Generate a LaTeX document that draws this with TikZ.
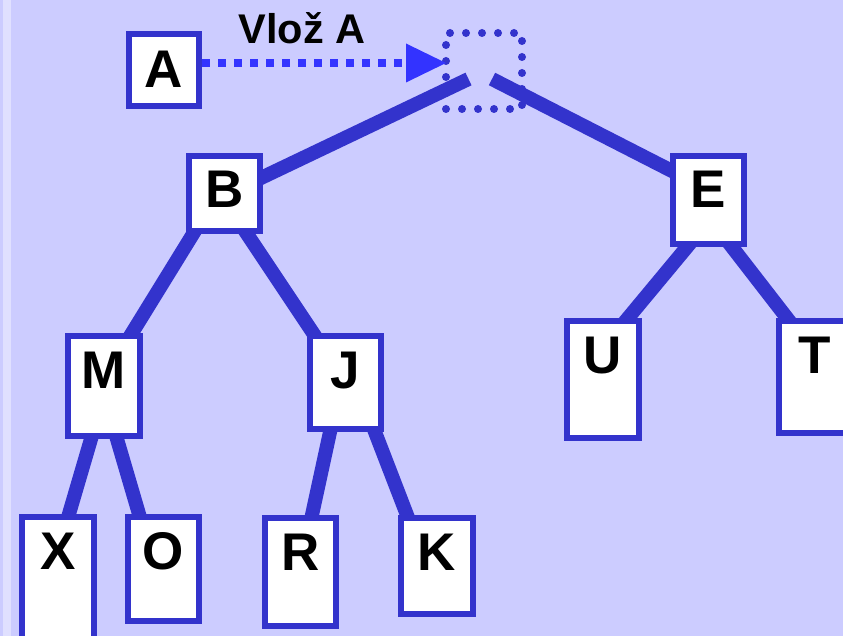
\documentclass[tikz,border=0pt]{standalone}
\usepackage{fontspec}
\setmainfont{Liberation Sans}
\usetikzlibrary{arrows.meta}
\definecolor{bg}{HTML}{CCCCFF}
\definecolor{stripe}{HTML}{E0E0FF}
\definecolor{navy}{HTML}{3333CC}
\definecolor{arrowblue}{HTML}{3333FF}
\pgfdeclarelayer{back}
\pgfdeclarelayer{edges}
\pgfsetlayers{back,edges,main}
\tikzset{
  box/.style={draw=navy, fill=white, line width=6pt, inner sep=0pt},
  lbl/.style={font=\bfseries\fontsize{53}{60}\selectfont, inner sep=0pt, anchor=base},
  edge/.style={draw=navy, line width=14pt, line cap=butt},
  slot/.style={draw=navy, line width=8pt, line cap=round, dash pattern=on 0pt off 16pt,
    minimum width=76pt, minimum height=76pt, inner sep=0pt, outer sep=0pt},
  insert/.style={draw=arrowblue, line width=8pt, dash pattern=on 8pt off 8pt,
    -{Triangle[length=40pt,width=39pt,line width=0pt,fill=arrowblue]}},
  ttl/.style={font=\bfseries\fontsize{41.5}{48}\selectfont, inner sep=0pt, anchor=base}
}
\begin{document}
\begin{tikzpicture}[x=1pt,y=-1pt]
\useasboundingbox (0,0) rectangle (843,636);
\begin{pgfonlayer}{back}
\fill[bg] (0,0) rectangle (843,636);
\fill[stripe] (3,0) rectangle (11,636);
\node[slot] (slot) at (484,71) {};
\end{pgfonlayer}
% free ends near the slot
\coordinate (tl) at (468.5,79);
\coordinate (tr) at (492,79);
% boxes
\path
  (164,70)      node[box, minimum width=70pt, minimum height=72pt]  (A) {}
  (224.5,193.5) node[box, minimum width=71pt, minimum height=75pt]  (B) {}
  (708.5,200)   node[box, minimum width=71pt, minimum height=88pt]  (E) {}
  (104,386)     node[box, minimum width=72pt, minimum height=100pt] (M) {}
  (345.5,382.5) node[box, minimum width=71pt, minimum height=93pt]  (J) {}
  (603,379.5)   node[box, minimum width=72pt, minimum height=117pt] (U) {}
  (814.5,377)   node[box, minimum width=71pt, minimum height=112pt] (T) {}
  (58,582)      node[box, minimum width=72pt, minimum height=130pt] (X) {}
  (163.5,569)   node[box, minimum width=71pt, minimum height=104pt] (O) {}
  (300.5,572)   node[box, minimum width=71pt, minimum height=108pt] (R) {}
  (437,566)     node[box, minimum width=72pt, minimum height=96pt]  (K) {};
% letters
\node[lbl] (Al) at ([yshift=-57]A.north) {A};
\foreach \n in {B,E,M,J,U,T,X,O,R,K}
  \node[lbl] (\n l) at ([yshift=-55]\n.north) {\n};
% edges (behind boxes)
\begin{pgfonlayer}{edges}
\draw[edge, shorten >=-8] (tl) -- ([yshift=16.5]B.east);
\draw[edge, shorten >=-8] (tr) -- ([yshift=30]E.west);
\draw[edge, shorten <=-6, shorten >=-6] ([xshift=-31.5]B.south) -- ([xshift=28]M.north);
\draw[edge, shorten <=-6, shorten >=-6] ([xshift=22.5]B.south) -- ([xshift=-32.5]J.north);
\draw[edge, shorten <=-6, shorten >=-6] ([xshift=-21.5]E.south) -- ([xshift=25]U.north);
\draw[edge, shorten <=-6, shorten >=-6] ([xshift=23.5]E.south) -- ([xshift=-27.5]T.north);
\draw[edge, shorten <=-6, shorten >=-6] ([xshift=-13]M.south) -- ([xshift=11]X.north);
\draw[edge, shorten <=-6, shorten >=-6] ([xshift=13]M.south) -- ([xshift=-24.5]O.north);
\draw[edge, shorten <=-6, shorten >=-6] ([xshift=-15.5]J.south) -- ([xshift=11.5]R.north);
\draw[edge, shorten <=-6, shorten >=-6] ([xshift=29.5]J.south) -- ([xshift=-30]K.north);
\end{pgfonlayer}
% insertion arrow and title
\draw[insert] ([yshift=7]A.east) -- ([yshift=8]slot.west);
\node[ttl] (vloz) at (302,44) {Vlož A};
\end{tikzpicture}
\end{document}
